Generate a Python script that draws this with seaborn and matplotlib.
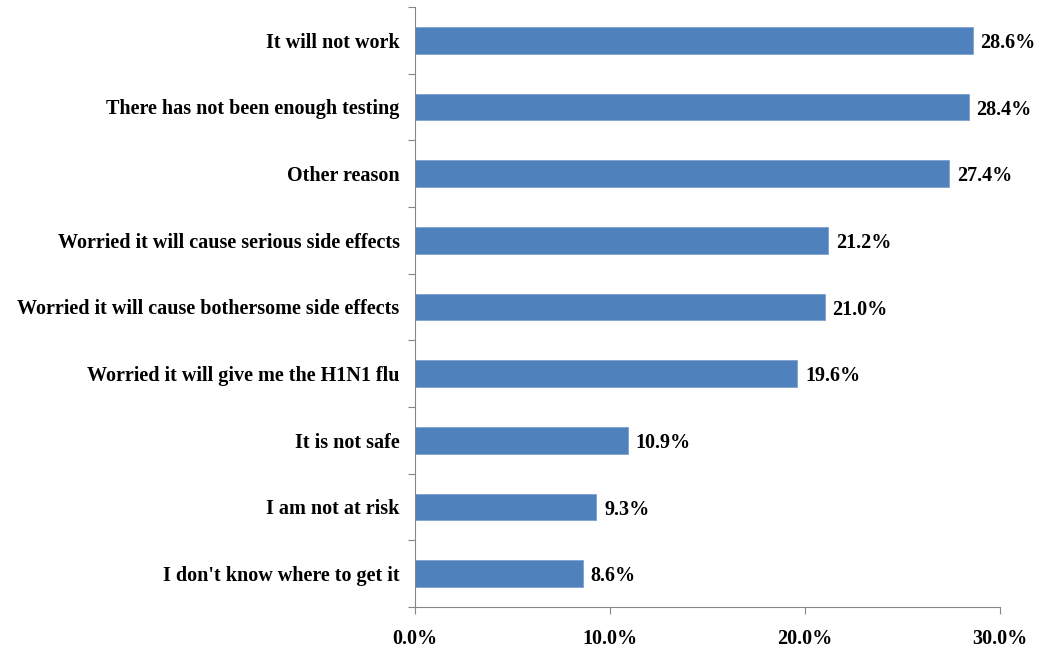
import matplotlib
matplotlib.use("Agg")
import matplotlib.pyplot as plt
import seaborn as sns
import pandas as pd
import numpy as np
from matplotlib.ticker import FixedLocator, FuncFormatter

categories = [
    "It will not work",
    "There has not been enough testing",
    "Other reason",
    "Worried it will cause serious side effects",
    "Worried it will cause bothersome side effects",
    "Worried it will give me the H1N1 flu",
    "It is not safe",
    "I am not at risk",
    "I don't know where to get it",
]
values = [28.6, 28.4, 27.4, 21.2, 21.0, 19.6, 10.9, 9.3, 8.6]
xticks = [0, 10, 20, 30]

sns.set_theme(style="white")
plt.rcParams["font.family"] = ["Liberation Serif", "DejaVu Serif"]
plt.rcParams["font.weight"] = "bold"
plt.rcParams["text.color"] = "black"
plt.rcParams["xtick.labelcolor"] = "black"
plt.rcParams["ytick.labelcolor"] = "black"

df = pd.DataFrame({"reason": categories, "pct": values})

fig = plt.figure(figsize=(10.47, 6.54), dpi=100)
ax = fig.add_axes([415 / 1047, 1 - 607 / 654, (1000 - 415) / 1047, 600 / 654])

sns.barplot(data=df, y="reason", x="pct", orient="h", color="#4F81BD",
            saturation=1, width=0.4, edgecolor="#7EA1D0", linewidth=0.6, ax=ax)

ax.set_xlim(0, 30)
ax.set_ylim(len(categories) - 0.5, -0.5)
ax.set_xlabel("")
ax.set_ylabel("")

for i, v in enumerate(values):
    ax.text(v + 0.4, i + 0.04, f"{v:.1f}%", va="center", ha="left",
            fontsize=14.5, fontweight="bold", color="black")

ax.set_xticks(xticks)
ax.xaxis.set_major_formatter(FuncFormatter(lambda x, p: f"{x:.1f}%"))
ax.tick_params(axis="x", direction="out", length=5, width=0.8, color="#868686",
               pad=11, labelsize=14.5, bottom=True, labelcolor="black")
for lab in ax.get_xticklabels():
    lab.set_fontweight("bold")

ax.yaxis.set_minor_locator(FixedLocator(np.arange(-0.5, len(categories), 1.0)))
ax.tick_params(axis="y", which="major", length=0, pad=11, labelsize=14.5,
               labelcolor="black")
ax.tick_params(axis="y", which="minor", direction="out", length=5, width=0.8,
               color="#868686", left=True)
for lab in ax.get_yticklabels():
    lab.set_fontweight("bold")

for side in ["top", "right"]:
    ax.spines[side].set_visible(False)
for side in ["left", "bottom"]:
    ax.spines[side].set_color("#868686")
    ax.spines[side].set_linewidth(0.8)

fig.savefig("out.png", dpi=100, facecolor="white")
